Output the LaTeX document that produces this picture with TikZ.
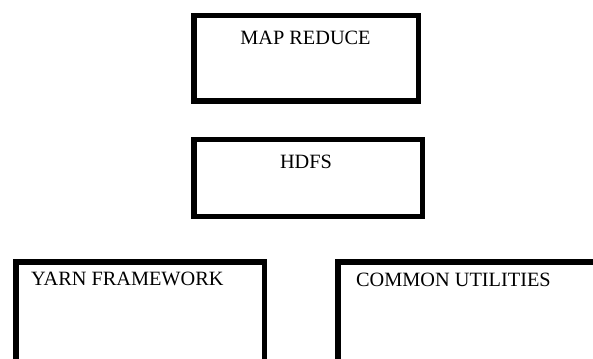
\documentclass[tikz,border=0pt]{standalone}
\usepackage{fontspec}
\setmainfont{Liberation Serif}
\begin{document}
\begin{tikzpicture}[x=1pt,y=-1pt,
  box/.style={draw=black,line width=5.5pt,fill=white,inner sep=0pt,outer sep=0pt},
  lbl/.style={inner sep=0pt,font=\fontsize{20.3}{23}\selectfont}]
\useasboundingbox (0,0) rectangle (593,358);
\fill[white] (0,0) rectangle (593,358);
\begin{scope}
\clip (0,0) rectangle (593,358);
\node[box,minimum width=224.5pt,minimum height=85.5pt] (mr) at (306,58.5) {};
\node[lbl,anchor=base] (mrt) at (305.5,45) {MAP REDUCE};
\node[box,minimum width=228.5pt,minimum height=76.5pt] (hdfs) at (308,178) {};
\node[lbl,anchor=base] (hdfst) at (306,168) {HDFS};
\node[box,minimum width=248.5pt,minimum height=100.25pt] (yarn) at (140,311.9) {};
\node[lbl,anchor=base west] (yarnt) at (31,285) {YARN FRAMEWORK};
\node[box,minimum width=262.25pt,minimum height=100.25pt] (cu) at (468.9,311.9) {};
\node[lbl,anchor=base west] (cut) at (356,286) {COMMON UTILITIES};
\end{scope}
\end{tikzpicture}
\end{document}
